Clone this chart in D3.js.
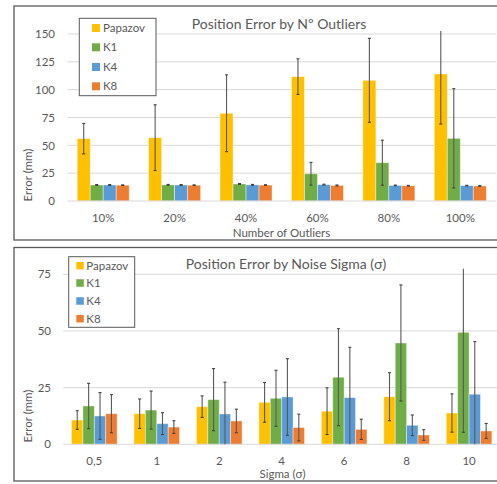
<!DOCTYPE html>
<html><head><meta charset="utf-8">
<script src="https://cdn.jsdelivr.net/npm/d3@7"></script>
<style>body{margin:0;background:#fff;}svg{display:block;}text{font-family:Lato,"Open Sans",sans-serif;fill:#595959;}</style>
</head><body>
<svg id="c" width="497" height="484"></svg>
<script>
const series = ["Papazov","K1","K4","K8"];
const colors = ["#FFC000","#70AD47","#5B9BD5","#ED7D31"];

const outlierCats = ["10%","20%","40%","60%","80%","100%"];
const outlierTicks = [0,25,50,75,100,125,150];
const outlierAxisMax = 152.7;
const outlierMean = {
  Papazov:[56,56.9,78.8,111.7,108.4,114.1],
  K1:[14.4,14.5,15.3,24.5,34.4,56.3],
  K4:[14.4,14.4,14.5,14.7,14,13.8],
  K8:[14.2,14.2,14.3,14,13.7,13.5]
};
const outlierErr = {
  Papazov:[13.7,29.5,34.5,16,37.7,45],
  K1:[0.4,0.4,0.4,10.2,20.2,44.6],
  K4:[0.4,0.4,0.4,0.4,0.3,0.3],
  K8:[0.3,0.3,0.3,0.4,0.3,0.3]
};

const sigmaCats = ["0,5","1","2","4","6","8","10"];
const sigmaTicks = [0,25,50,75];
const sigmaAxisMax = 77.4;
const sigmaMean = {
  Papazov:[10.7,13.5,16.6,18.5,14.6,21,13.8],
  K1:[16.9,15.1,19.7,20.3,29.6,44.7,49.4],
  K4:[12.5,9.1,13.4,20.9,20.6,8.4,22.1],
  K8:[13.5,7.6,10.3,7.4,6.6,4.1,5.9]
};
const sigmaErr = {
  Papazov:[4.1,6.5,4.75,8.75,10.3,10.6,8.45],
  K1:[10,8.4,13.7,12.35,21.4,25.6,44.1],
  K4:[10.3,4.85,14,16.9,22.2,4.55,23.2],
  K8:[8.4,2.8,5.2,5.9,4.45,2.35,3.3]
};

const svg = d3.select("#c");

function chart(cfg){
  const g = svg.append("g");
  g.append("rect").attr("x",cfg.box[0]).attr("y",cfg.box[1]).attr("width",cfg.box[2]).attr("height",cfg.box[3])
    .attr("fill","none").attr("stroke","#595959").attr("stroke-width",1.3);
  const x = d3.scaleBand().domain(cfg.cats).range([cfg.x0,cfg.x1]);
  const y = d3.scaleLinear().domain([0,cfg.max]).range([cfg.y0,cfg.yTop]);
  const xs = d3.scaleBand().domain(series).range([0,cfg.barW*4]);
  g.append("g").selectAll("line").data(cfg.ticks.filter(t=>t>0)).join("line")
    .attr("x1",cfg.x0).attr("x2",cfg.x1).attr("y1",d=>y(d)).attr("y2",d=>y(d))
    .attr("stroke","#D9D9D9").attr("stroke-width",1);
  const ya = g.append("g").attr("transform",`translate(${cfg.tickX},0)`)
    .call(d3.axisLeft(y).tickValues(cfg.ticks).tickSize(0).tickPadding(0));
  ya.select(".domain").remove();
  ya.selectAll("text").attr("font-size",cfg.tickFs).attr("fill","#595959").attr("font-family","Lato");
  const off = (x.bandwidth()-cfg.barW*4)/2;
  series.forEach((s,si)=>{
    const gg = g.append("g");
    gg.selectAll("rect").data(cfg.cats.map((c,i)=>({c,v:cfg.mean[s][i]}))).join("rect")
      .attr("x",d=>x(d.c)+off+xs(s)).attr("width",xs.bandwidth())
      .attr("y",d=>y(d.v)).attr("height",d=>y(0)-y(d.v))
      .attr("fill",colors[si]).attr("stroke","#fff").attr("stroke-opacity",0.5).attr("stroke-width",0.8);
  });
  g.append("line").attr("x1",cfg.x0).attr("x2",cfg.x1).attr("y1",y(0)).attr("y2",y(0)).attr("stroke","#D9D9D9").attr("stroke-width",1);
  series.forEach((s,si)=>{
    const gg = g.append("g");
    cfg.cats.forEach((c,i)=>{
      const cx = x(c)+off+xs(s)+xs.bandwidth()/2;
      const m = cfg.mean[s][i], e = cfg.err[s][i];
      const hiV = Math.min(cfg.max, m+e), loV = Math.max(0, m-e);
      const hi = y(hiV), lo = y(loV);
      gg.append("line").attr("x1",cx).attr("x2",cx).attr("y1",hi).attr("y2",lo).attr("stroke","#595959").attr("stroke-width",1.1);
      if(m+e<=cfg.max) gg.append("line").attr("x1",cx-1.5).attr("x2",cx+1.5).attr("y1",hi).attr("y2",hi).attr("stroke","#404040").attr("stroke-width",1.1);
      if(m-e>0) gg.append("line").attr("x1",cx-1.5).attr("x2",cx+1.5).attr("y1",lo).attr("y2",lo).attr("stroke","#404040").attr("stroke-width",1.1);
    });
  });
  g.append("g").selectAll("text").data(cfg.cats).join("text")
    .attr("x",d=>x(d)+x.bandwidth()/2).attr("y",cfg.xLabY).attr("text-anchor","middle")
    .attr("font-size",cfg.tickFs).text(d=>d);
  g.append("text").attr("x",cfg.xTitleX).attr("y",cfg.xTitleY).attr("text-anchor","middle").attr("font-size",cfg.axFs).text(cfg.xTitle);
  g.append("text").attr("transform",`translate(${cfg.yTitleX},${cfg.yTitleY}) rotate(-90)`).attr("text-anchor","middle").attr("font-size",cfg.axFs).text("Error (mm)");
  g.append("text").attr("x",cfg.titleX).attr("y",cfg.titleY).attr("text-anchor","middle").attr("font-size",cfg.titleFs).text(cfg.title);
  const L = cfg.legend;
  g.append("rect").attr("x",L.x).attr("y",L.y).attr("width",L.w).attr("height",L.h).attr("fill","#fff").attr("stroke","#595959").attr("stroke-width",1);
  series.forEach((s,si)=>{
    const cy = L.rows[si];
    g.append("rect").attr("x",L.sx).attr("y",cy-L.sq/2).attr("width",L.sq).attr("height",L.sq).attr("fill",colors[si]);
    g.append("text").attr("x",L.tx).attr("y",cy+4).attr("font-size",L.fs).text(s);
  });
}

chart({
  box:[14,6,500,234], cats:outlierCats, ticks:outlierTicks, max:outlierAxisMax, mean:outlierMean, err:outlierErr,
  x0:67.5, x1:496, y0:201, yTop:201-outlierAxisMax*167/150, barW:13, tickX:55, tickFs:11.5, axFs:11.5,
  xLabY:222, xTitle:"Number of Outliers", xTitleX:281.5, xTitleY:237, yTitleX:32, yTitleY:175,
  title:"Position Error by Nº Outliers", titleX:279, titleY:29, titleFs:14,
  legend:{x:79.3,y:18.3,w:76.7,h:77.4,rows:[28,47.3,67,86.3],sx:92,sq:8,tx:103,fs:11.5}
});
chart({
  box:[14,247.5,500,233.5], cats:sigmaCats, ticks:sigmaTicks, max:sigmaAxisMax, mean:sigmaMean, err:sigmaErr,
  x0:63.1, x1:500.3, y0:444.3, yTop:444.3-sigmaAxisMax*170/75, barW:11.4, tickX:51, tickFs:11.5, axFs:11.5,
  xLabY:465, xTitle:"Sigma (σ)", xTitleX:282.5, xTitleY:478, yTitleX:32, yTitleY:416,
  title:"Position Error by Noise Sigma (σ)", titleX:286, titleY:269, titleFs:14,
  legend:{x:68.7,y:256.7,w:66,h:70.6,rows:[265.7,283,301,318.7],sx:76.3,sq:7.5,tx:86.3,fs:11.5}
});
</script>
</body></html>
